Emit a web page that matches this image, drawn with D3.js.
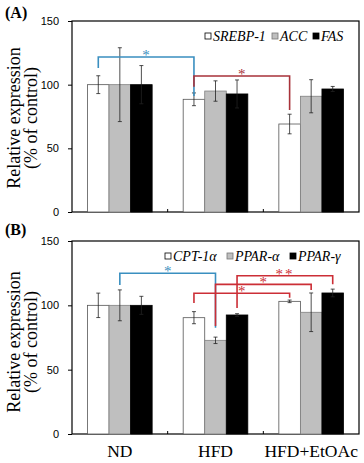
<!DOCTYPE html>
<html>
<head>
<meta charset="utf-8">
<script src="https://cdn.jsdelivr.net/npm/d3@7"></script>
<style>
  body { margin: 0; background: #fff; }
  svg { display: block; }
  .serif { font-family: 'Liberation Serif', 'DejaVu Serif', serif; }
  .sans { font-family: 'Liberation Sans', Arial, sans-serif; }
</style>
</head>
<body>
<div id="chart"></div>
<script>
const groups = ['ND', 'HFD', 'HFD+EtOAc'];
const yTicks = [0, 50, 100, 150];

// panel A
const seriesA = ['SREBP-1', 'ACC', 'FAS'];
const meanA = [
    [100, 88.5, 69.1],
    [100, 95, 90.9],
    [100, 92.7, 96.6]
];
const errA = [
    [7, 5, 7.7],
    [29, 8, 13],
    [15, 11, 2]
];
// [from group, from series, to group, to series, level, left end, right end, label, colour]
const sigA = [
    [0, 0, 1, 0, 121.7, 113, 91.1, '*', 'blue'],
    [1, 0, 2, 0, 106.8, 98.4, 80.1, '*', 'redA']
];

// panel B
const seriesB = ['CPT-1α', 'PPAR-α', 'PPAR-γ'];
const meanB = [
    [100, 90.4, 103.1],
    [100, 72.8, 94.6],
    [100, 92.5, 109.6]
];
const errB = [
    [9.5, 4.7, 1],
    [12, 2.5, 15],
    [7, 1, 3]
];
const sigB = [
    [0, 1, 1, 1, 124.9, 115.8, 82.6, '*', 'blue'],
    [1, 0, 2, 0, 109.4, 101.8, 105.9, '*', 'redB'],
    [1, 1, 2, 1, 116.3, 83.9, 111.9, '*', 'redB'],
    [1, 2, 2, 2, 123, 97.9, 116.3, '**', 'redB']
];

const width = 364;
const height = 463;
const left = 72;
const right = 359;
const fills = ['#ffffff', '#bfbfbf', '#000000'];
const strokes = ['#555555', '#808080', '#000000'];
const sigColors = { blue: '#3a8fc0', redA: '#a8323a', redB: '#cc2e36' };

const svg = d3.select('#chart')
    .append('svg')
    .attr('width', width)
    .attr('height', height);

const x0 = d3.scaleBand()
    .domain(groups)
    .range([left, right])
    .paddingInner(0)
    .paddingOuter(0);

function drawPanel(opt) {
    const g = svg.append('g');
    const y = d3.scaleLinear()
        .domain([0, 150])
        .range([opt.bottom, opt.top]);

    const x1 = d3.scaleBand()
        .domain(opt.series)
        .range([0, x0.bandwidth()])
        .paddingInner(0)
        .paddingOuter(0.72);

    // frame
    g.append('rect')
        .attr('x', left)
        .attr('y', opt.top)
        .attr('width', right - left)
        .attr('height', opt.bottom - opt.top)
        .attr('fill', 'none')
        .attr('stroke', '#000')
        .attr('stroke-width', 1.2);

    // bars
    const rows = [];
    opt.series.forEach((s, si) => {
        groups.forEach((grp, gi) => {
            rows.push({ s, si, grp, v: opt.mean[si][gi], e: opt.err[si][gi] });
        });
    });

    g.selectAll('rect.bar')
        .data(rows)
        .enter()
        .append('rect')
        .attr('class', 'bar')
        .attr('x', d => x0(d.grp) + x1(d.s))
        .attr('y', d => y(d.v))
        .attr('width', x1.bandwidth())
        .attr('height', d => y(0) - y(d.v))
        .attr('fill', d => fills[d.si])
        .attr('stroke', d => strokes[d.si])
        .attr('stroke-width', 0.8);

    // error bars
    const eb = g.selectAll('g.err')
        .data(rows)
        .enter()
        .append('g')
        .attr('class', 'err')
        .attr('stroke', '#222')
        .attr('stroke-width', 0.8);
    const cx = d => x0(d.grp) + x1(d.s) + x1.bandwidth() / 2;
    eb.append('line')
        .attr('x1', cx).attr('x2', cx)
        .attr('y1', d => y(d.v + d.e)).attr('y2', d => y(d.v - d.e));
    eb.append('line')
        .attr('x1', d => cx(d) - 2).attr('x2', d => cx(d) + 2)
        .attr('y1', d => y(d.v + d.e)).attr('y2', d => y(d.v + d.e));
    eb.append('line')
        .attr('x1', d => cx(d) - 2).attr('x2', d => cx(d) + 2)
        .attr('y1', d => y(d.v - d.e)).attr('y2', d => y(d.v - d.e));

    // y axis
    const yAxis = d3.axisLeft(y)
        .tickValues(yTicks)
        .tickSize(4)
        .tickSizeOuter(0)
        .tickPadding(9);
    const ya = g.append('g')
        .attr('transform', 'translate(' + left + ',0)')
        .call(yAxis);
    ya.select('.domain').remove();
    ya.attr('font-family', null);
    ya.selectAll('text')
        .attr('class', 'sans')
        .attr('font-size', 11)
        .attr('fill', '#000');

    // x axis
    const xAxis = d3.axisBottom(x0)
        .tickSize(0)
        .tickPadding(11);
    const xa = g.append('g')
        .attr('transform', 'translate(0,' + opt.bottom + ')')
        .call(xAxis);
    xa.select('.domain').remove();
    xa.attr('font-family', null);
    xa.selectAll('text')
        .attr('class', 'serif')
        .attr('font-size', 17.5)
        .attr('fill', '#000')
        .style('display', opt.labels ? null : 'none');

    g.selectAll('line.xtick')
        .data(groups.slice(1))
        .enter()
        .append('line')
        .attr('class', 'xtick')
        .attr('x1', d => x0(d)).attr('x2', d => x0(d))
        .attr('y1', opt.bottom).attr('y2', opt.bottom - 3)
        .attr('stroke', '#000');

    // y title
    const ty = g.append('text')
        .attr('class', 'serif')
        .attr('transform', 'translate(20,' + opt.mid + ') rotate(-90)')
        .attr('text-anchor', 'middle')
        .attr('font-size', 18)
        .attr('fill', '#000');
    ty.append('tspan').attr('x', 0).attr('dy', 0).text('Relative expression');
    ty.append('tspan').attr('x', 0).attr('dy', 17).text('(% of control)');

    // panel label
    g.append('text')
        .attr('class', 'serif')
        .attr('x', 5)
        .attr('y', opt.labelY)
        .attr('font-weight', 'bold')
        .attr('font-size', 16)
        .text(opt.name);

    // significance brackets
    opt.sig.forEach(b => {
        const xa1 = x0(groups[b[0]]) + x1(opt.series[b[1]]) + x1.bandwidth() / 2;
        const xb1 = x0(groups[b[2]]) + x1(opt.series[b[3]]) + x1.bandwidth() / 2;
        const col = sigColors[b[8]];
        g.append('path')
            .attr('d', 'M' + xa1 + ',' + y(b[5]) + 'V' + y(b[4]) + 'H' + xb1 + 'V' + y(b[6]))
            .attr('fill', 'none')
            .attr('stroke', col)
            .attr('stroke-width', 1.6);
        g.append('text')
            .attr('class', 'serif')
            .attr('x', (xa1 + xb1) / 2)
            .attr('y', y(b[4]) + 3)
            .attr('text-anchor', 'middle')
            .attr('font-size', 15)
            .attr('letter-spacing', b[7].length > 1 ? 2 : 0)
            .attr('fill', col)
            .text(b[7]);
    });

    // legend
    const lg = g.append('g')
        .attr('class', 'serif')
        .attr('font-style', 'italic')
        .attr('font-size', 14);
    opt.series.forEach((s, i) => {
        const lx = opt.legendX[i];
        lg.append('rect')
            .attr('x', lx)
            .attr('y', opt.legendY - 3)
            .attr('width', 6)
            .attr('height', 6)
            .attr('fill', fills[i])
            .attr('stroke', i === 1 ? '#777' : '#000')
            .attr('stroke-width', 0.8);
        lg.append('text')
            .attr('x', lx + 8)
            .attr('y', opt.legendY + 4.5)
            .attr('fill', '#000')
            .text(s);
    });
}

drawPanel({
    name: '(A)', top: 21, bottom: 212, mid: 118, labelY: 18, labels: false,
    series: seriesA, mean: meanA, err: errA, sig: sigA,
    legendX: [205, 272, 313], legendY: 36
});

drawPanel({
    name: '(B)', top: 241, bottom: 434, mid: 342, labelY: 235, labels: true,
    series: seriesB, mean: meanB, err: errB, sig: sigB,
    legendX: [165, 227, 290], legendY: 256
});
</script>
</body>
</html>
